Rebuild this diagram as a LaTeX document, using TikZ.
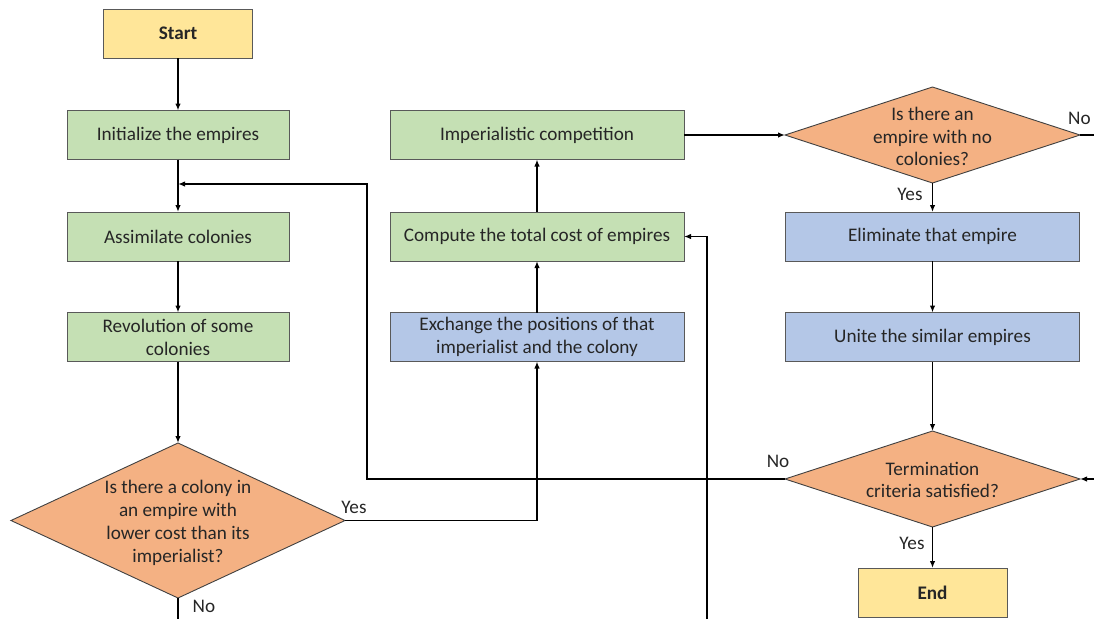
\documentclass[tikz,border=0pt]{standalone}
\usepackage{fontspec}
\setmainfont{Carlito}
\usetikzlibrary{shapes.geometric,arrows.meta}
\definecolor{termfill}{HTML}{FFE699}
\definecolor{procfill}{HTML}{C5E0B4}
\definecolor{swapfill}{HTML}{B4C7E7}
\definecolor{askfill}{HTML}{F4B183}
\definecolor{txt}{HTML}{262626}
\begin{document}
\begin{tikzpicture}[x=1pt,y=-1pt,
  every node/.style={font=\fontsize{19.2}{22.8}\selectfont, text=txt},
  box/.style={rectangle, draw=black!65, line width=0.9pt, inner sep=0pt, outer sep=0pt, align=center},
  term/.style={box, fill=termfill, minimum width=149pt, minimum height=49pt, font=\fontsize{19.2}{22.8}\selectfont\bfseries},
  proc/.style={box, fill=procfill, minimum height=49pt},
  swap/.style={box, fill=swapfill, minimum height=49pt},
  ask/.style={diamond, draw=black!75, line width=0.9pt, fill=askfill, inner sep=0pt, outer sep=0pt},
  asktext/.style={align=center, inner sep=0pt},
  flow/.style={draw=black, line width=1.4pt, -{Latex[length=7pt,width=5.5pt]}},
  wire/.style={draw=black, line width=1.4pt},
  tag/.style={inner sep=0pt}
]
\useasboundingbox (0,0) rectangle (1094,619);

% left column
\node[term] (start) at (178,33.5) {Start};
\node[proc, minimum width=222pt] (init) at (178,135) {Initialize the empires};
\node[proc, minimum width=222pt] (assim) at (178,236.5) {Assimilate colonies};
\node[proc, minimum width=222pt] (revo) at (178,337) {Revolution of some\\colonies};
\node[ask, minimum width=334pt, minimum height=155pt] (d1) at (178,520.5) {};
\node[asktext] (d1t) at (178,523) {Is there a colony in\\an empire with\\lower cost than its\\imperialist?};

% middle column
\node[proc, minimum width=294pt] (comp) at (537,135) {Imperialistic competition};
\node[proc, minimum width=294pt] (cost) at (537,236.5) {Compute the total cost of empires};
\node[swap, minimum width=294pt] (exch) at (537,337) {Exchange the positions of that\\imperialist and the colony};

% right column
\node[ask, minimum width=295pt, minimum height=96pt] (d2) at (932.5,135) {};
\node[asktext] (d2t) at (932.5,136.5) {Is there an\\empire with no\\colonies?};
\node[swap, minimum width=294pt] (elim) at (932.5,236.5) {Eliminate that empire};
\node[swap, minimum width=294pt] (unite) at (932.5,337) {Unite the similar empires};
\node[ask, minimum width=295pt, minimum height=96pt] (d3) at (932.5,479) {};
\node[asktext] (d3t) at (932.5,480) {Termination\\criteria satisfied?};
\node[term] (stop) at (932.5,592.5) {End};

% loose ends at the frame
\coordinate (joinL) at (178,184);
\coordinate (d1out) at (178,619);
\coordinate (costin) at (707,619);
\coordinate (d2out) at (1094,135);
\coordinate (d3in) at (1094,479);

% main flow
\draw[flow] (start) -- (init);
\draw[wire] (init) -- (joinL);
\draw[flow] (joinL) -- (assim);
\draw[flow] (assim) -- (revo);
\draw[flow] (revo) -- (d1.north);
\draw[wire] (d1.south) -- (d1out);
\draw[flow] (d1.east) -| (exch.south);
\draw[flow] (exch) -- (cost);
\draw[flow] (cost) -- (comp);
\draw[flow] (costin) |- (cost.east);
\draw[flow] (comp.east) -- (d2.west);
\draw[wire] (d2.east) -- (d2out);
\draw[flow] (d2.south) -- (elim);
\draw[flow] (elim) -- (unite);
\draw[flow] (unite) -- (d3.north);
\draw[flow] (d3in) -- (d3.east);
\draw[flow] (d3.south) -- (stop);
\draw[flow] (d3.west) -- (367,479) |- (joinL);

% branch labels
\node[tag] (l1) at (354,507) {Yes};
\node[tag] (l2) at (204,606) {No};
\node[tag, anchor=west] (l3) at (1068,118) {No};
\node[tag] (l4) at (910,194) {Yes};
\node[tag] (l5) at (778,461) {No};
\node[tag] (l6) at (912,543) {Yes};
\end{tikzpicture}
\end{document}
